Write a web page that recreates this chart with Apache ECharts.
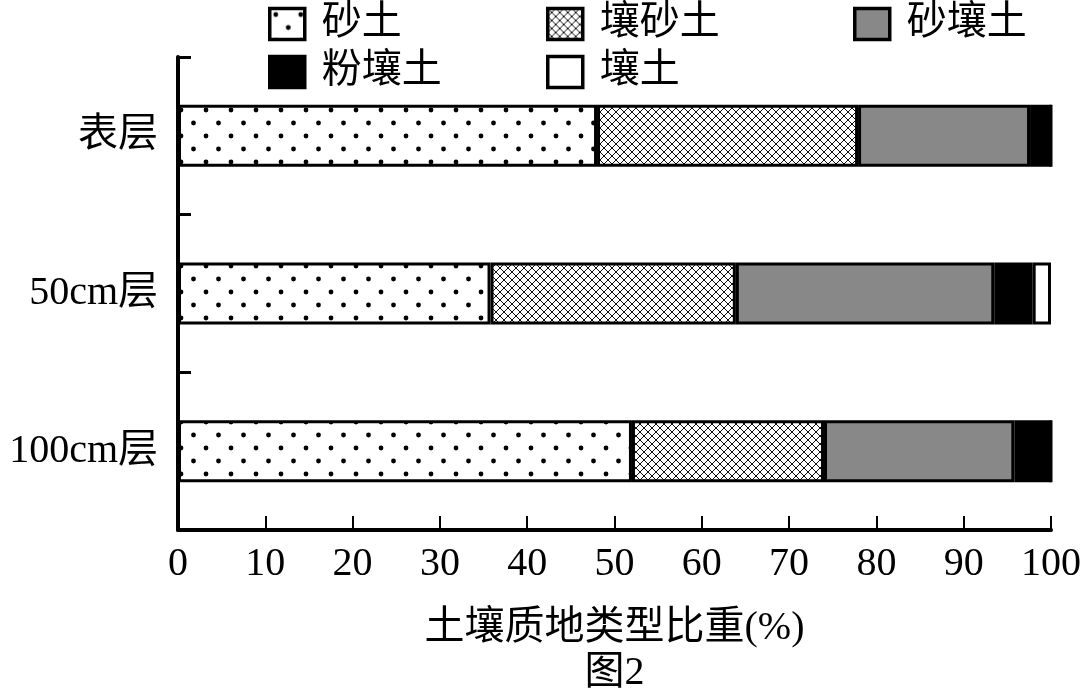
<!DOCTYPE html>
<html>
<head>
<meta charset="utf-8">
<script src="https://cdn.jsdelivr.net/npm/echarts@6/dist/echarts.min.js"></script>
<style>html,body{margin:0;padding:0;background:#fff;}#c{width:1080px;height:698px;}</style>
</head>
<body>
<div id="c"></div>
<script>
// ---- data ----
const categories = ['表层', '50cm层', '100cm层'];
const seriesNames = ['砂土', '壤砂土', '砂壤土', '粉壤土', '壤土'];
const sand = [48, 35.8, 52];            // 砂土
const loamySand = [29.9, 28.1, 22];     // 壤砂土
const sandyLoam = [19.7, 29.6, 21.8];   // 砂壤土
const siltLoam = [2.4, 4.4, 4.2];       // 粉壤土
const loam = [0, 2.1, 0];               // 壤土
const xTicks = [0, 10, 20, 30, 40, 50, 60, 70, 80, 90, 100];
const xAxisName = '土壤质地类型比重(%)\n图2';

// ---- patterns ----
function dotPattern() {
  const c = document.createElement('canvas');
  c.width = 25; c.height = 26;
  const g = c.getContext('2d');
  g.fillStyle = '#fff'; g.fillRect(0, 0, 25, 26);
  g.fillStyle = '#000';
  [[6, 6], [18.5, 19]].forEach(p => { g.beginPath(); g.arc(p[0], p[1], 2.4, 0, Math.PI * 2); g.fill(); });
  return c;
}
function hatchPattern() {
  const s = 8;
  const c = document.createElement('canvas');
  c.width = s; c.height = s;
  const g = c.getContext('2d');
  g.fillStyle = '#fff'; g.fillRect(0, 0, s, s);
  g.strokeStyle = '#111'; g.lineWidth = 1;
  g.beginPath();
  g.moveTo(-1, -1); g.lineTo(s + 1, s + 1);
  g.moveTo(s + 1, -1); g.lineTo(-1, s + 1);
  g.stroke();
  return c;
}
const fills = [
  { image: dotPattern(), repeat: 'repeat' },
  { image: hatchPattern(), repeat: 'repeat' },
  '#888888',
  '#000000',
  '#ffffff'
];
const values = [sand, loamySand, sandyLoam, siltLoam, loam];

const FONT = "'Liberation Serif', 'Noto Sans CJK SC', serif";
const legendPos = [[268, 4], [546, 4], [853, 4], [268, 52], [546, 52]];

const chart = echarts.init(document.getElementById('c'), null, { renderer: 'canvas' });
chart.setOption({
  animation: false,
  backgroundColor: '#fff',
  textStyle: { fontFamily: FONT, color: '#000' },
  grid: { left: 178, right: 29, top: 57, bottom: 168, containLabel: false, outerBoundsMode: 'none' },
  legend: seriesNames.map((n, i) => ({
    left: legendPos[i][0], top: legendPos[i][1], padding: 0,
    data: [n], selectedMode: false, icon: 'rect',
    itemWidth: 35, itemHeight: 31,
    itemStyle: { borderColor: '#000', borderWidth: 3.5 },
    textStyle: { fontSize: 40, fontFamily: FONT, color: '#000', padding: [0, 0, 0, 12] }
  })),
  xAxis: {
    type: 'value', min: 0, max: 100, interval: 10,
    name: xAxisName, nameLocation: 'middle', nameGap: 76,
    nameTextStyle: { fontSize: 40, lineHeight: 45, fontFamily: FONT, color: '#000', verticalAlign: 'top' },
    axisLine: { show: true, lineStyle: { color: '#000', width: 4 } },
    axisTick: { show: true, inside: true, length: 14, lineStyle: { color: '#000', width: 2 } },
    axisLabel: { fontSize: 40, fontFamily: FONT, color: '#000', margin: 14,
      formatter: v => (xTicks.indexOf(v) >= 0 ? String(v) : '') },
    splitLine: { show: false }
  },
  yAxis: {
    type: 'category', data: categories, inverse: true,
    axisLine: { show: true, lineStyle: { color: '#000', width: 4 } },
    axisTick: { show: true, inside: true, length: 13, lineStyle: { color: '#000', width: 3 } },
    axisLabel: { fontSize: 40, fontFamily: FONT, color: '#000', margin: 20 }
  },
  series: seriesNames.map((n, i) => ({
    name: n, type: 'bar', stack: 'total', barWidth: 62,
    data: values[i],
    itemStyle: { color: fills[i], borderColor: '#000', borderWidth: 3 },
    emphasis: { disabled: true }
  }))
});
</script>
</body>
</html>
